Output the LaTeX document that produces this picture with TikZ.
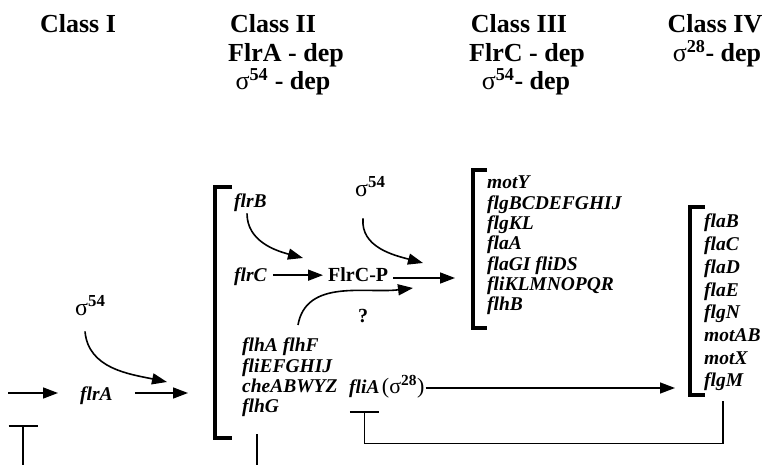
\documentclass[tikz,border=0pt]{standalone}
\usepackage{fontspec}
\setmainfont{Liberation Serif}
\usetikzlibrary{arrows.meta,positioning}
\newcommand{\sigup}[1]{\textmd{σ}\textsuperscript{\bfseries #1}}
\tikzstyle{head} = [
  font=\fontsize{26}{28}\selectfont\bfseries, inner sep=0pt, anchor=base
]
\tikzstyle{gene} = [
  font=\fontsize{19.5}{20.3}\selectfont\bfseries\itshape, inner sep=1pt,
  anchor=base west
]
\tikzstyle{prot} = [
  font=\fontsize{20}{22}\selectfont\bfseries, inner sep=1pt, anchor=base west
]
\tikzstyle{sigma} = [
  font=\fontsize{24}{25}\selectfont, inner sep=1pt, anchor=base west
]
\tikzstyle{arr} = [-{Triangle[length=15pt,width=11pt]}, line width=1.6pt]
\tikzstyle{brk} = [line width=4.5pt]
\tikzstyle{inh} = [line width=1.5pt]

\begin{document}
\begin{tikzpicture}[x=1pt, y=-1pt]
    \useasboundingbox (0,0) rectangle (766,465);
    % column headers
    \node[head] (c1) at (78,33) {Class I};
    \node[head] (c2) at (273,33) {Class II};
    \node[head] (c2a) at (286,62) {FlrA - dep};
    \node[head] (c2s) at (283,90) {\sigup{54} - dep};
    \node[head] (c3) at (519,33) {Class III};
    \node[head] (c3a) at (527,62) {FlrC - dep};
    \node[head] (c3s) at (526,90) {\sigup{54}- dep};
    \node[head] (c4) at (715,33) {Class IV};
    \node[head] (c4s) at (717,62) {\sigup{28}- dep};

    % class I
    \node[sigma] (s54a) at (74,316) {\sigup{54}};
    \node[gene, inner xsep=22pt] (flrA) at (58,400) {flrA};
    \coordinate (in) at (8,393);
    \coordinate (c2in) at (188,393);
    \coordinate (s54a-end) at (167,382);
    \coordinate (lbot) at (23,465);
    \coordinate (lbar) at (23,425);
    \draw[arr] (in) -- (in -| flrA.west);
    \draw[arr] (flrA.east |- c2in) -- (c2in);
    \draw[arr] ([xshift=11pt, yshift=-14pt] s54a.south west) to[out=-85, in=168] (s54a-end);
    \draw[inh, -{Bar[width=29pt]}] (lbot) -- (lbar);

    % class II
    \draw[brk] (232,187) -- (215,187) -- (215,438) -- (232,438);
    \node[gene] (flrB) at (233,208) {flrB};
    \node[gene, inner xsep=6pt] (flrC) at (228,282) {flrC};
    \node[prot, inner xsep=5pt] (flrCP) at (323,282) {FlrC-P};
    \node[sigma] (s54b) at (354,197) {\sigup{54}};
    \node[prot, anchor=base] (q) at (363,322) {?};
    \node[gene, align=left, anchor=north west] (c2list) at (241,337)
      {flhA flhF\\fliEFGHIJ\\cheABWYZ\\flhG};
    \node[gene] (fliA) at (348,393) {fliA};
    \node[sigma, font=\fontsize{22}{23}\selectfont] (s28) at (fliA.base east) {(\sigup{28})};
    \coordinate (fcp-end) at (303,258);
    \coordinate (s54b-end) at (423,263);
    \coordinate (q-end) at (413,288);
    \coordinate (c3in) at (455,278);
    \coordinate (c4in) at (675,388);
    \draw[arr] (flrC.east |- flrCP.west) -- (flrCP.west);
    \draw[arr] ([xshift=14pt] flrB.south west) to[out=-90, in=165] (fcp-end);
    \draw[arr] (flrCP.east |- c3in) -- (c3in);
    \draw[arr] ([xshift=9pt, yshift=-20pt] s54b.south west) to[out=-95, in=165] (s54b-end);
    \draw[arr] ([xshift=57pt, yshift=12pt] c2list.north west) to[out=80, in=187] (q-end);
    \draw[arr, line width=1.4pt] (s28.east |- c4in) -- (c4in);
    \draw[inh] ([xshift=16pt, yshift=-16pt] c2list.south west) -- ++(0,-40pt);

    % class III
    \draw[brk] (487,170) -- (473,170) -- (473,328) -- (487,328);
    \node[gene, align=left, anchor=north west] (c3list) at (486,175)
      {motY\\flgBCDEFGHIJ\\flgKL\\flaA\\flaGI fliDS\\fliKLMNOPQR\\flhB};

    % class IV
    \draw[brk] (705,207) -- (690,207) -- (690,395) -- (705,395);
    \node[gene, align=left, anchor=north west, font=\fontsize{19.5}{22.7}\selectfont\bfseries\itshape]
      (c4list) at (703,213) {flaB\\flaC\\flaD\\flaE\\flgN\\motAB\\motX\\flgM};
    \draw[inh, {Bar[width=29pt]}-] ([yshift=-13pt] fliA.south) -- ++(0,-32pt)
      -| ([xshift=20pt, yshift=-9pt] c4list.south west);
  \end{tikzpicture}
\end{document}
